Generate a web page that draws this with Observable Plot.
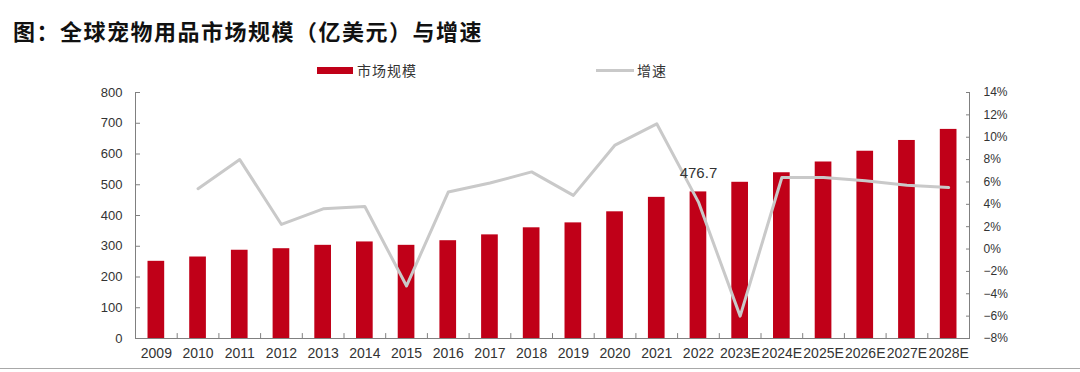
<!DOCTYPE html>
<html>
<head>
<meta charset="utf-8">
<script src="https://cdn.jsdelivr.net/npm/d3@7"></script>
<script src="https://cdn.jsdelivr.net/npm/@observablehq/plot@0.6"></script>
<style>
  body { margin: 0; background: #fff; width: 1080px; height: 372px; overflow: hidden; font-family: "Liberation Sans", Arial, sans-serif; }
  #title { height: 56px; line-height: 60px; padding-left: 13px; font-family: "Noto Sans CJK SC", sans-serif; font-weight: 700; font-size: 22px; letter-spacing: 1.5px; color: #111; white-space: nowrap; }
  #legend { position: relative; height: 28px; font-family: "Noto Sans CJK SC", sans-serif; font-size: 14px; color: #333; }
  #legend .sw { position: absolute; }
  #legend .lb { position: absolute; top: 4px; line-height: 20px; letter-spacing: 1px; }
  #chart svg { display: block; }
  #rule { border-top: 1.5px solid #a8a8a8; width: 1080px; }
</style>
</head>
<body>
<div id="title">图：全球宠物用品市场规模（亿美元）与增速</div>
<div id="legend">
  <div class="sw" style="left:317px; top:11px; width:36px; height:7px; background:#c00018;"></div>
  <div class="lb" style="left:357px;">市场规模</div>
  <div class="sw" style="left:596px; top:13px; width:38px; height:3px; background:#c9c9c9;"></div>
  <div class="lb" style="left:637px;">增速</div>
</div>
<div id="chart"></div>
<div id="rule"></div>
<script>
// ---- data ----
const years = ["2009","2010","2011","2012","2013","2014","2015","2016","2017","2018","2019","2020","2021","2022","2023E","2024E","2025E","2026E","2027E","2028E"];
const marketSize = [251, 265, 287, 292, 303, 314, 303, 318, 337, 360, 376, 412, 459, 476.7, 508, 539, 574, 609, 644, 680];
const growthPct = [null, 5.4, 8.0, 2.2, 3.6, 3.8, -3.3, 5.1, 5.9, 6.9, 4.8, 9.3, 11.2, 4.2, -6.0, 6.4, 6.4, 6.1, 5.7, 5.5];
const leftTicks = [0, 100, 200, 300, 400, 500, 600, 700, 800];
const rightTicks = [-8, -6, -4, -2, 0, 2, 4, 6, 8, 10, 12, 14];
const labeledYear = "2022";

// ---- layout ----
const W = 1080, H = 284, ML = 135, MR = 111, MT = 8, MB = 30;
const step = (W - ML - MR) / years.length;
const yMax = leftTicks[leftTicks.length - 1];
const pMin = rightTicks[0], pMax = rightTicks[rightTicks.length - 1];
const toLeft = p => (p - pMin) / (pMax - pMin) * yMax;
const fromLeft = v => v / yMax * (pMax - pMin) + pMin;

const rows = years.map((y, i) => ({year: y, value: marketSize[i], growth: growthPct[i]}));
const axisColor = "#808080";
const textColor = "#333";

const chart = Plot.plot({
  width: W, height: H,
  marginLeft: ML, marginRight: MR, marginTop: MT, marginBottom: MB,
  style: {fontFamily: "'Liberation Sans', Arial, sans-serif", background: "#fff"},
  x: {type: "band", domain: years, paddingInner: 0.6, paddingOuter: 0.3, round: false, label: null},
  y: {domain: [0, yMax], label: null},
  marks: [
    Plot.barY(rows, {x: "year", y: "value", fill: "#c00018"}),
    Plot.line(rows.filter(d => d.growth != null), {x: "year", y: d => toLeft(d.growth), stroke: "#c9c9c9", strokeWidth: 3}),
    Plot.text(rows.filter(d => d.year === labeledYear), {x: "year", y: "value", text: d => d.value.toFixed(1), dy: -19, fontSize: 15, fill: textColor}),
    Plot.ruleY([0], {stroke: axisColor}),
    Plot.frame({anchor: "left", stroke: axisColor}),
    Plot.frame({anchor: "right", stroke: axisColor}),
    Plot.ruleX(years.slice(1), {x: d => d, y1: 0, y2: 16, dx: -step / 2, stroke: axisColor}),
    Plot.axisY(leftTicks, {anchor: "left", tickSize: -5, tickPadding: 18, fontSize: 13, stroke: axisColor, fill: textColor, label: null}),
    Plot.axisY(rightTicks.map(toLeft), {anchor: "right", tickSize: -4, tickPadding: 18, fontSize: 12, stroke: axisColor, fill: textColor, label: null,
      tickFormat: v => { const p = Math.round(fromLeft(v)); return (p < 0 ? "\u2212" + (-p) : p) + "%"; }}),
    Plot.axisX({tickSize: 0, tickPadding: 10, fontSize: 14, fill: textColor, label: null})
  ]
});
document.getElementById("chart").appendChild(chart);
</script>
</body>
</html>
